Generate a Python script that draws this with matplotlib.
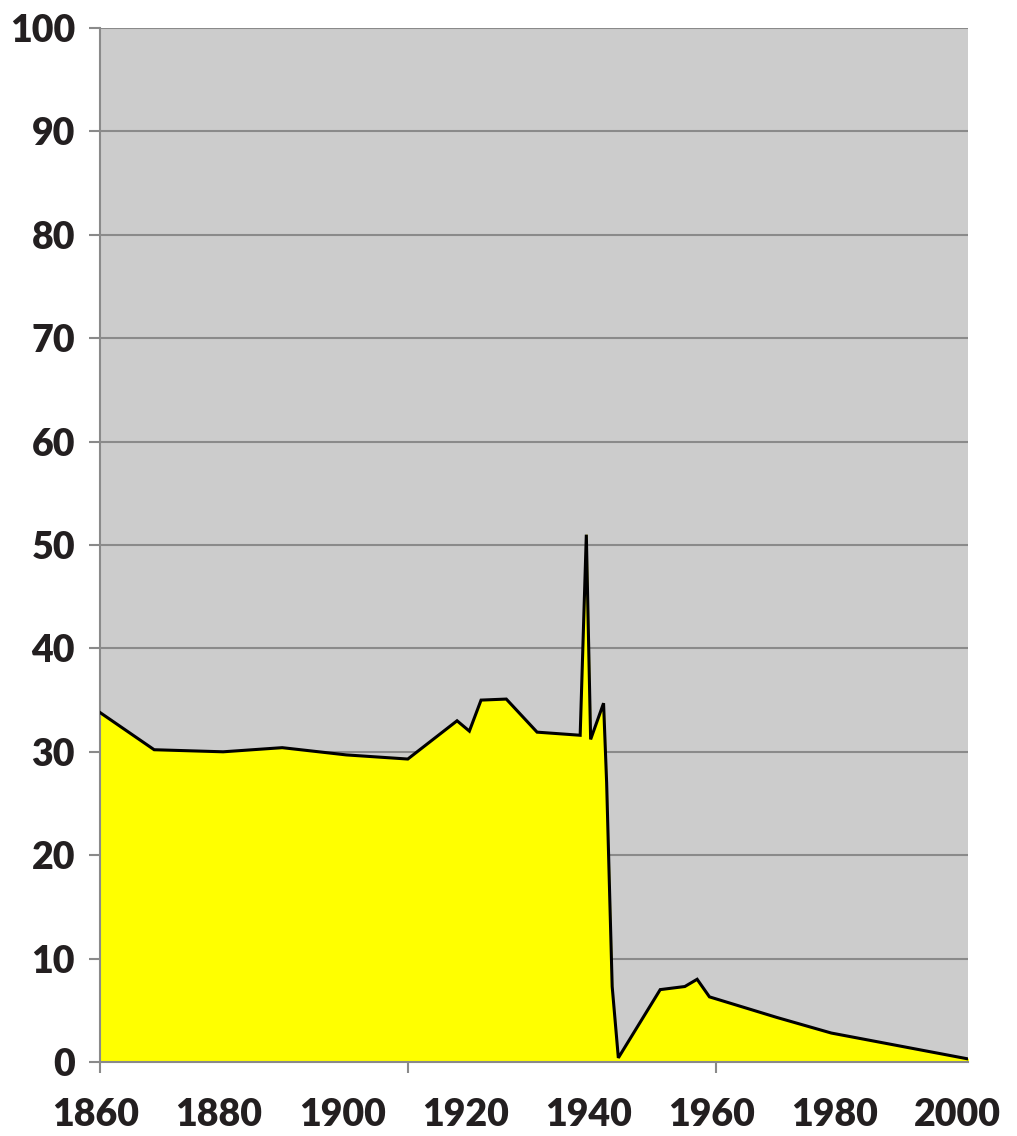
import matplotlib
matplotlib.use('Agg')
import matplotlib.pyplot as plt
from matplotlib.transforms import ScaledTranslation

# values
years = [1860, 1868.8, 1880, 1889.6, 1900, 1910, 1918, 1920, 1921.9, 1926,
         1931, 1938, 1939, 1939.7, 1941.8, 1942.3, 1942.8, 1943.2, 1944.2,
         1951, 1955, 1957, 1959, 1970, 1978.8, 2001]
values = [33.8, 30.2, 30.0, 30.4, 29.7, 29.3, 33.0, 32.0, 35.0, 35.1,
          31.9, 31.6, 51.0, 31.2, 34.7, 27.0, 16.0, 7.3, 0.4,
          7.0, 7.3, 8.0, 6.3, 4.3, 2.8, 0.3]

x_labels = [1860, 1880, 1900, 1920, 1940, 1960, 1980, 2000]
x_marks = [1860, 1910, 1960]
y_ticks = list(range(0, 101, 10))

plt.rcParams['font.family'] = ['Lato', 'DejaVu Sans']

fig = plt.figure(figsize=(10.17, 11.36), dpi=100)
ax = fig.add_axes([100 / 1017, 1 - 1062 / 1136, 868 / 1017, 1034 / 1136])
ax.set_facecolor('#cccccc')

ax.fill_between(years, values, 0, color='#ffff00', zorder=2)
ax.plot(years, values, color='black', lw=2.2, zorder=3, solid_joinstyle='miter')

ax.set_xlim(1860, 2001)
ax.set_ylim(0, 100)

ax.set_yticks(y_ticks)
ax.set_yticklabels([str(v) for v in y_ticks], fontsize=27, fontweight='heavy',
                   color='#231f20')
ax.yaxis.grid(True, color='#8a8a8a', lw=1.5, zorder=1)
ax.tick_params(axis='y', length=8, width=1.5, color='#8a8a8a', pad=10)

ax.xaxis.remove_overlapping_locs = False
ax.set_xticks(x_labels)
ax.set_xticklabels([str(v) for v in x_labels], fontsize=27, fontweight='heavy',
                   color='#231f20')
ax.set_xticks(x_marks, minor=True)
ax.tick_params(axis='x', which='major', length=0, pad=26)
ax.tick_params(axis='x', which='minor', length=8, width=1.5, color='#8a8a8a')
shift = ScaledTranslation(-4 / 100, 0, fig.dpi_scale_trans)
for lab in ax.get_xticklabels():
    lab.set_transform(lab.get_transform() + shift)

for s in ['top', 'right']:
    ax.spines[s].set_visible(False)
for s in ['left', 'bottom']:
    ax.spines[s].set_color('#8a8a8a')
    ax.spines[s].set_linewidth(1.5)
ax.set_axisbelow(True)

fig.savefig('out.png', dpi=100)
